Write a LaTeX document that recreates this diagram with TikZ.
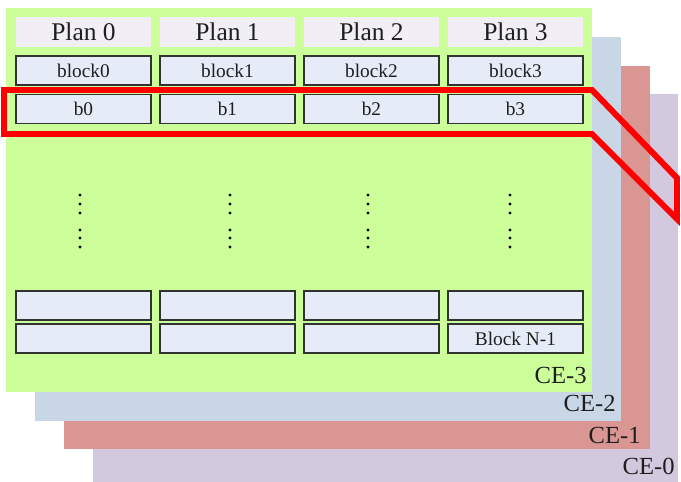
\documentclass[tikz,border=0pt]{standalone}
\usepackage{fontspec}
\setmainfont{Liberation Serif}
\usetikzlibrary{positioning}

\definecolor{cezero}{RGB}{210,201,222}
\definecolor{ceone}{RGB}{217,150,146}
\definecolor{cetwo}{RGB}{200,214,230}
\definecolor{cethree}{RGB}{204,255,153}
\definecolor{planfill}{RGB}{241,239,245}
\definecolor{blkfill}{RGB}{230,236,247}
\definecolor{blkedge}{RGB}{50,50,50}
\definecolor{txt}{RGB}{30,30,30}

\begin{document}
\begin{tikzpicture}[x=0.02cm, y=-0.02cm,
	plan/.style={fill=planfill, minimum width=2.7cm, minimum height=0.6cm, inner sep=0pt, text=txt, font=\fontsize{14.5}{16}\selectfont},
	blk/.style={draw=blkedge, line width=0.8pt, fill=blkfill, minimum width=2.7cm, minimum height=0.58cm, inner sep=0pt, text=txt, font=\fontsize{11}{12}\selectfont},
	celabel/.style={anchor=base east, inner sep=0pt, text=txt, font=\fontsize{14}{16}\selectfont},
	band/.style={draw=red, line width=3.4pt, line join=miter}]
		\useasboundingbox (0,0) rectangle (681,482);

		% stacked layers, back to front
		\fill[cezero] (93,94) rectangle (678,482);
		\fill[ceone] (64,66) rectangle (650,449);
		\fill[cetwo] (35,37) rectangle (621,421);
		\fill[cethree] (6,8) rectangle (592,392);
		\node[celabel] (lce0) at (675,475) {CE-0}; \node[celabel] (lce1) at (641,444) {CE-1};
		\node[celabel] (lce2) at (616,412) {CE-2}; \node[celabel] (lce3) at (587,384) {CE-3};

		% plan headers
		\node[plan] (p0) at (83.5,32) {Plan 0}; \node[plan] (p1) at (227.5,32) {Plan 1}; \node[plan] (p2) at (371.5,32) {Plan 2}; \node[plan] (p3) at (515.5,32) {Plan 3};

		% first block row
		\node[blk] (k0) at (83.5,70.5) {block0}; \node[blk] (k1) at (227.5,70.5) {block1}; \node[blk] (k2) at (371.5,70.5) {block2}; \node[blk] (k3) at (515.5,70.5) {block3};
		\node[blk] (b0) at (83.5,109) {b0}; \node[blk] (b1) at (227.5,109) {b1}; \node[blk] (b2) at (371.5,109) {b2}; \node[blk] (b3) at (515.5,109) {b3};

		% last two rows
		\node[blk] (m0) at (83.5,305.5) {}; \node[blk] (m1) at (227.5,305.5) {}; \node[blk] (m2) at (371.5,305.5) {}; \node[blk] (m3) at (515.5,305.5) {};
		\node[blk] (n0) at (83.5,338.5) {}; \node[blk] (n1) at (227.5,338.5) {}; \node[blk] (n2) at (371.5,338.5) {}; \node[blk] (n3) at (515.5,338.5) {Block N-1};

		% vertical dots
		\foreach \x in {80,230,368,510}
			\foreach \y in {195,204,213,230,238,247}
				\fill (\x,\y) circle (1.6);

		% highlighted page across the layers
		\draw[band] (4,90) -- (592,90) -- (677,178) -- (677,219) -- (592,134) -- (4,134) -- cycle;
	\end{tikzpicture}
\end{document}
